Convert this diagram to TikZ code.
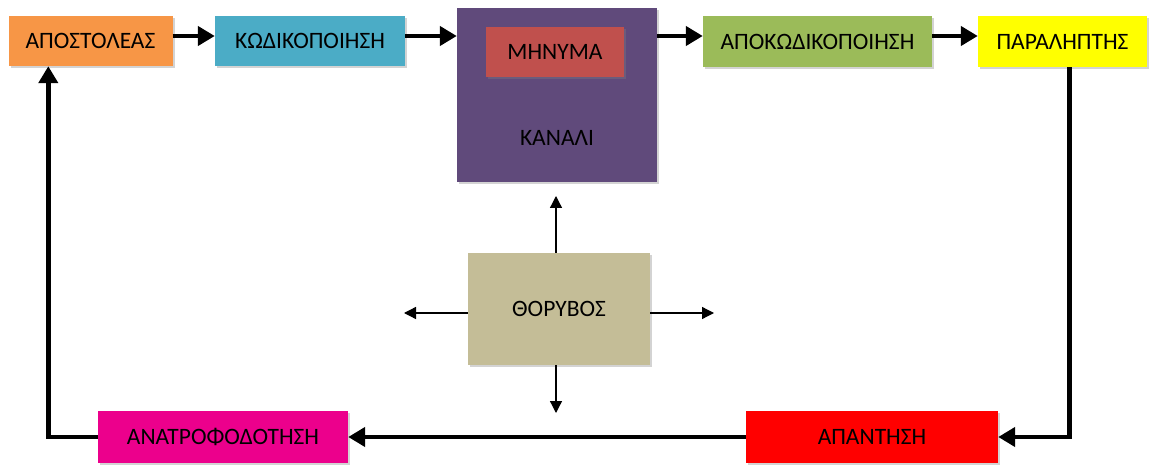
\documentclass[tikz,border=0pt]{standalone}
\usepackage{fontspec}
\setmainfont{Carlito}
\usetikzlibrary{arrows.meta,shadows}

\definecolor{senderC}{RGB}{247,150,70}
\definecolor{encoderC}{RGB}{75,172,198}
\definecolor{channelC}{RGB}{96,74,123}
\definecolor{messageC}{RGB}{192,80,77}
\definecolor{decoderC}{RGB}{155,187,89}
\definecolor{receiverC}{RGB}{255,255,0}
\definecolor{noiseC}{RGB}{196,189,151}
\definecolor{feedbackC}{RGB}{236,0,140}
\definecolor{responseC}{RGB}{255,0,0}

\begin{document}
\begin{tikzpicture}[x=1pt,y=-1pt,
  box/.style={inner sep=0pt, font=\fontsize{23.5}{27}\selectfont,
    drop shadow={shadow xshift=2pt,shadow yshift=-2pt,opacity=0.35}},
  flow/.style={line width=4.5pt, -{Triangle[length=17pt,width=19pt]}},
  noisy/.style={line width=1.3pt, -{Triangle[length=12pt,width=12pt]}}]
\useasboundingbox (0,0) rectangle (1152,465);

\node[box, fill=senderC, minimum width=164pt, minimum height=50pt] (sender) at (90.5,41) {ΑΠΟΣΤΟΛΕΑΣ};
\node[box, fill=encoderC, minimum width=190pt, minimum height=50pt] (encoder) at (310,41) {ΚΩΔΙΚΟΠΟΙΗΣΗ};
\node[box, fill=channelC, minimum width=200pt, minimum height=174pt] (channel) at (557,95) {};
\node[box, fill=messageC, minimum width=138pt, minimum height=50pt] (message) at (555,52) {ΜΗΝΥΜΑ};
\node[font=\fontsize{23.5}{27}\selectfont] (chanlabel) at (557,138) {ΚΑΝΑΛΙ};
\node[box, fill=decoderC, minimum width=229pt, minimum height=51pt] (decoder) at (817.5,41.5) {ΑΠΟΚΩΔΙΚΟΠΟΙΗΣΗ};
\node[box, fill=receiverC, minimum width=169pt, minimum height=51pt] (receiver) at (1062.5,41.5) {ΠΑΡΑΛΗΠΤΗΣ};
\node[box, fill=noiseC, minimum width=182pt, minimum height=112pt] (noise) at (559,309) {ΘΟΡΥΒΟΣ};
\node[box, fill=feedbackC, minimum width=250pt, minimum height=52pt] (feedback) at (223,437) {ΑΝΑΤΡΟΦΟΔΟΤΗΣΗ};
\node[box, fill=responseC, minimum width=252pt, minimum height=52pt] (response) at (872,437) {ΑΠΑΝΤΗΣΗ};

\coordinate (row) at (0,36);
\coordinate (nup) at (556,196);
\coordinate (ndown) at (556,413);
\coordinate (nleft) at (404,313);
\coordinate (nright) at (714,313);

\draw[flow] (sender.east |- row) -- (encoder.west |- row);
\draw[flow] (encoder.east |- row) -- (channel.west |- row);
\draw[flow] (channel.east |- row) -- (decoder.west |- row);
\draw[flow] (decoder.east |- row) -- (receiver.west |- row);
\draw[flow] ([xshift=7pt]receiver.south) |- (response.east);
\draw[flow] (response.west) -- (feedback.east);
\draw[flow] (feedback.west) -| ([xshift=40pt]sender.south west);

\draw[noisy] (noise.north -| nup) -- (nup);
\draw[noisy] (noise.south -| ndown) -- (ndown);
\draw[noisy] (noise.west |- nleft) -- (nleft);
\draw[noisy] (noise.east |- nright) -- (nright);
\end{tikzpicture}
\end{document}
